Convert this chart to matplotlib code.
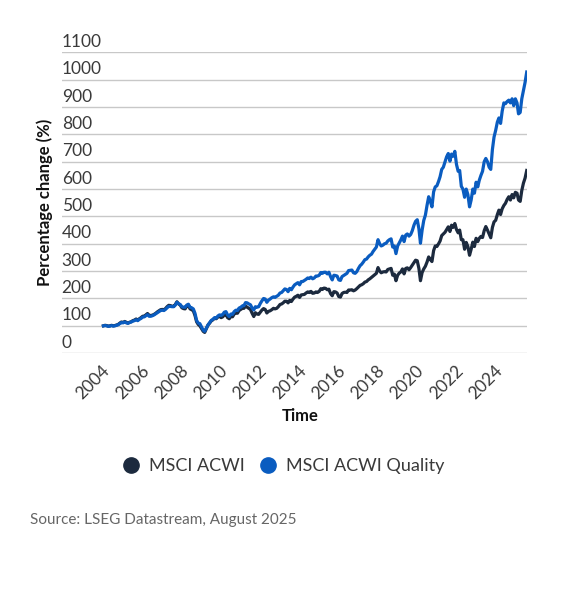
import numpy as np
import pandas as pd
import matplotlib
matplotlib.use("Agg")
import matplotlib.pyplot as plt
from matplotlib.lines import Line2D
from matplotlib.transforms import offset_copy

plt.rcParams["font.family"] = ["Lato", "DejaVu Sans"]

# monthly index levels, Jan 2004 = 100
acwi = [
    100, 102, 101, 99, 100, 102, 100, 101, 103, 105, 110, 114,
    112, 116, 113, 110, 113, 115, 119, 121, 125, 121, 126, 130,
    135, 136, 140, 145, 138, 138, 139, 142, 146, 151, 155, 159,
    160, 159, 163, 170, 175, 174, 172, 171, 178, 188, 180, 176,
    166, 163, 162, 172, 176, 162, 159, 155, 138, 115, 105, 100,
    90, 80, 76, 90, 103, 110, 118, 122, 128, 126, 132, 135,
    130, 133, 140, 142, 130, 126, 135, 133, 143, 148, 146, 156,
    160, 164, 164, 172, 168, 164, 160, 146, 134, 148, 143, 142,
    150, 158, 163, 160, 147, 153, 155, 159, 164, 162, 164, 170,
    178, 180, 184, 190, 190, 184, 193, 189, 198, 205, 208, 212,
    204, 213, 214, 215, 220, 224, 222, 226, 219, 220, 224, 222,
    226, 236, 233, 238, 237, 232, 234, 218, 210, 225, 224, 220,
    207, 205, 218, 222, 223, 222, 231, 231, 232, 228, 231, 236,
    242, 248, 250, 254, 260, 262, 268, 272, 277, 282, 287, 292,
    313, 300, 294, 297, 298, 297, 306, 308, 310, 285, 289, 265,
    285, 293, 297, 308, 290, 310, 312, 305, 313, 322, 332, 340,
    338, 310, 265, 295, 308, 318, 333, 352, 342, 335, 375, 392,
    390, 400, 410, 430, 436, 442, 452, 462, 445, 468, 460, 474,
    452, 440, 450, 415, 415, 380, 405, 390, 358, 380, 406, 390,
    420, 408, 420, 427, 423, 448, 463, 450, 436, 422, 460, 480,
    486, 507, 523, 507, 528, 540, 548, 562, 572, 560, 580, 568,
    588, 585, 560, 555, 595, 622, 640, 668,
]

acwi_quality = [
    100, 101, 100, 98, 99, 101, 99, 100, 102, 104, 108, 112,
    111, 114, 111, 109, 112, 114, 117, 119, 122, 119, 124, 127,
    132, 133, 137, 141, 135, 135, 137, 140, 144, 148, 152, 156,
    157, 156, 160, 166, 171, 171, 170, 170, 176, 186, 181, 178,
    170, 168, 168, 176, 179, 168, 166, 162, 146, 120, 110, 108,
    96, 84, 80, 92, 103, 112, 120, 124, 130, 128, 136, 140,
    138, 142, 150, 152, 140, 134, 143, 142, 152, 157, 156, 165,
    168, 173, 174, 185, 184, 180, 177, 165, 158, 170, 168, 170,
    182, 192, 200, 198, 186, 194, 198, 203, 206, 204, 208, 212,
    220, 222, 228, 235, 233, 225, 237, 232, 242, 250, 254, 258,
    250, 262, 262, 266, 270, 275, 273, 278, 272, 275, 282, 282,
    285, 295, 292, 296, 296, 290, 296, 280, 268, 285, 284, 282,
    268, 266, 280, 284, 288, 292, 302, 303, 304, 294, 292, 298,
    310, 320, 325, 333, 342, 344, 352, 358, 362, 372, 380, 388,
    415, 400, 392, 395, 400, 402, 410, 415, 418, 388, 392, 364,
    392, 404, 414, 428, 408, 432, 436, 428, 434, 448, 468, 482,
    488, 455, 402, 450, 485, 505, 540, 572, 555, 535, 590, 608,
    612, 628, 645, 672, 680, 700, 718, 730, 702, 728, 720, 738,
    690, 665, 668, 610, 600, 570, 600, 580, 535, 560, 600, 585,
    625, 608, 632, 650, 665, 700, 712, 700, 680, 672, 745, 790,
    815, 845, 860, 840, 885, 915, 912, 920, 925, 915, 930, 905,
    930, 915, 875, 880, 930, 960, 990, 1028,
]

dates = pd.date_range("2004-01-01", periods=len(acwi), freq="MS")
y_ticks = list(range(0, 1101, 100))
x_tick_years = list(range(2004, 2025, 2))

DARK = "#1c2a3e"
BLUE = "#0a5cc0"
TEXT = "#3a3a3a"

W, H = 570, 602
fig = plt.figure(figsize=(W / 100, H / 100), dpi=100)
ax = fig.add_axes([61.7 / W, 1 - 353.2 / H, (527 - 61.7) / W, (353.2 - 52.3) / H])

ax.plot(dates, acwi, color=DARK, lw=2.3, solid_joinstyle="round", zorder=3)
ax.plot(dates, acwi_quality, color=BLUE, lw=2.3, solid_joinstyle="round", zorder=4)

ax.set_ylim(0, 1100)
ax.set_xlim(pd.Timestamp("2001-11-15"), pd.Timestamp("2025-08-06"))
for s in ax.spines.values():
    s.set_visible(False)
ax.set_yticks(y_ticks)
ax.set_xticks([])
ax.tick_params(axis="y", length=0, labelleft=False)
ax.grid(axis="y", color="#c8c8c8", lw=1)
ax.set_axisbelow(True)

# y labels sit above their grid lines
ylab_tr = offset_copy(ax.get_yaxis_transform(), fig=fig, x=0, y=10.5, units="dots")
for v in y_ticks:
    ax.text(0, v, str(v), transform=ylab_tr, ha="left", va="center",
            fontsize=12.5, color=TEXT)

xlab_tr = offset_copy(ax.get_xaxis_transform(), fig=fig, x=4, y=-15, units="dots")
for yr in x_tick_years:
    ax.text(pd.Timestamp(f"{yr}-01-01"), 0, str(yr), transform=xlab_tr,
            rotation=45, rotation_mode="anchor", ha="right", va="center",
            fontsize=12.5, color=TEXT)

fig.text(45 / W, 1 - 202 / H, "Percentage change (%)", rotation=90,
         ha="center", va="center", fontsize=12, fontweight="bold", color="#111111")
fig.text(300 / W, 1 - 416 / H, "Time", ha="center", va="center",
         fontsize=12, fontweight="bold", color="#111111")

handles = [
    Line2D([], [], ls="none", marker="o", ms=11, color=DARK, label="MSCI ACWI"),
    Line2D([], [], ls="none", marker="o", ms=11, color=BLUE, label="MSCI ACWI Quality"),
]
leg = fig.legend(handles=handles, loc="center", bbox_to_anchor=(282 / W, 1 - 466 / H),
                 ncol=2, frameon=False, fontsize=13, handletextpad=0.4,
                 columnspacing=0.7, handlelength=1.2)
for t in leg.get_texts():
    t.set_color(TEXT)

fig.text(30 / W, 1 - 520 / H, "Source: LSEG Datastream, August 2025",
         ha="left", va="center", fontsize=11, color="#666666")

fig.savefig("out.png", dpi=100, facecolor="white")
